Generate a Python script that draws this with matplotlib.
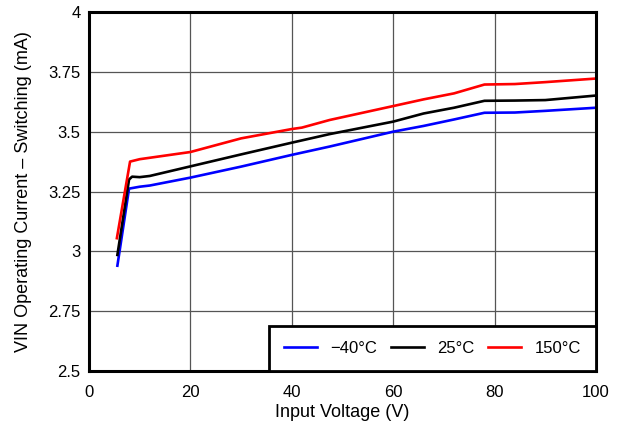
import matplotlib
matplotlib.use("Agg")
import matplotlib.pyplot as plt

plt.rcParams['font.family'] = ['Liberation Sans', 'DejaVu Sans']

# input voltage (V) / operating current (mA) per temperature
v_m40 = [5.6, 7.9, 10, 12, 20, 30, 40, 47.5, 60, 66, 72, 78, 84, 90, 100]
i_m40 = [2.94, 3.262, 3.27, 3.275, 3.308, 3.354, 3.403, 3.438, 3.50, 3.524, 3.551, 3.579, 3.58, 3.587, 3.60]

v_25 = [5.6, 7.9, 8.5, 10, 12, 20, 30, 40, 47.5, 60, 66, 72, 78, 84, 90, 100]
i_25 = [2.985, 3.30, 3.312, 3.31, 3.315, 3.355, 3.405, 3.454, 3.49, 3.542, 3.576, 3.60, 3.629, 3.63, 3.632, 3.651]

v_150 = [5.5, 8.1, 10, 20, 30, 40, 42, 47.5, 60, 66, 72, 78, 84, 90, 100]
i_150 = [3.055, 3.375, 3.385, 3.415, 3.472, 3.511, 3.517, 3.549, 3.607, 3.635, 3.66, 3.697, 3.699, 3.707, 3.722]

xticks = [0, 20, 40, 60, 80, 100]
yticks = [2.5, 2.75, 3, 3.25, 3.5, 3.75, 4]
ytick_labels = ['2.5', '2.75', '3', '3.25', '3.5', '3.75', '4']

fig = plt.figure(figsize=(6.21, 4.29), dpi=100)
ax = fig.add_axes([0.1433, 0.1352, 0.8164, 0.8368])

ax.plot(v_m40, i_m40, color='#0000ff', lw=1.9, label='\u221240\u00b0C')
ax.plot(v_25, i_25, color='black', lw=1.9, label='25\u00b0C')
ax.plot(v_150, i_150, color='#ff0000', lw=1.9, label='150\u00b0C')

ax.set_xlim(0, 100)
ax.set_ylim(2.5, 4)
ax.set_xticks(xticks)
ax.set_yticks(yticks)
ax.set_yticklabels(ytick_labels)
ax.tick_params(length=0, labelsize=12)
ax.tick_params(axis='x', pad=10)
ax.tick_params(axis='y', pad=6)
ax.grid(True, color='#555555', lw=0.9)
ax.set_axisbelow(True)
for s in ax.spines.values():
    s.set_linewidth(2.2)

ax.set_xlabel('Input Voltage (V)', fontsize=13, labelpad=3)
ax.set_ylabel('VIN Operating Current \u2013 Switching (mA)', fontsize=13, labelpad=12)

leg = ax.legend(loc='lower right', ncol=3, fontsize=12, fancybox=False,
                framealpha=1, edgecolor='black', borderaxespad=0,
                handlelength=2.0, columnspacing=0.8, handletextpad=0.8,
                borderpad=0.9)
leg.get_frame().set_linewidth(2.0)

plt.savefig('out.png', dpi=100)
